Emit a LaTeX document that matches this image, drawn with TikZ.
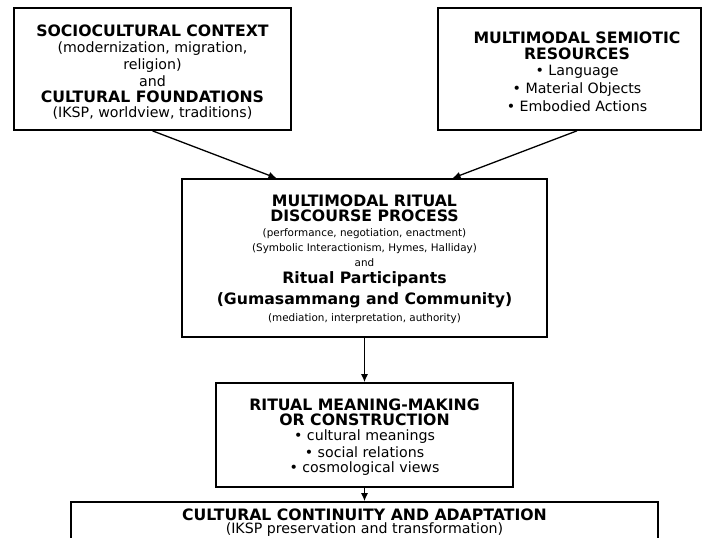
\documentclass[tikz,border=0pt]{standalone}
\usepackage{fontspec}
\setmainfont{DejaVu Sans}
\usetikzlibrary{arrows.meta,calc}
\pgfdeclarelayer{edgelayer}
\pgfdeclarelayer{nodelayer}
\pgfsetlayers{edgelayer,nodelayer,main}
\newcommand{\headfont}{\fontsize{15.7}{16}\bfseries\selectfont}
\newcommand{\bodyfont}{\fontsize{14.2}{16}\selectfont}
\newcommand{\smallfont}{\fontsize{10.4}{15}\selectfont}
\tikzstyle{none}=[inner sep=0pt, align=center, font=\bodyfont]
\tikzstyle{box}=[rectangle, draw=black, line width=1.7pt, fill=white, inner sep=0pt]
\tikzstyle{edge}=[draw=black, line width=1.3pt, -{Latex[length=8pt,width=7pt]}]

\begin{document}
\begin{tikzpicture}[x=1pt, y=-1pt]
			\useasboundingbox (0, 0) rectangle (702, 538);
			\begin{pgfonlayer}{nodelayer}
			\node [style=box, minimum width=277, minimum height=122] (0) at (152.5, 69) {};
			\node [style=none] (1) at (152.5, 72.5) {{\headfont SOCIOCULTURAL CONTEXT}\\(modernization, migration,\\[1pt]religion)\\[1pt]and\\{\headfont CULTURAL FOUNDATIONS}\\[-1pt](IKSP, worldview, traditions)};
			\node [style=box, minimum width=263, minimum height=122] (2) at (569.5, 69) {};
			\node [style=none] (3) at (577, 72) {{\headfont MULTIMODAL SEMIOTIC}\\{\headfont RESOURCES}\\• Language\\[2pt]• Material Objects\\[2pt]• Embodied Actions};
			\node [style=box, minimum width=365, minimum height=158] (4) at (364.5, 258) {};
			\node [style=none, font=\smallfont] (5) at (364.5, 259.5) {{\headfont MULTIMODAL RITUAL}\\{\headfont DISCOURSE PROCESS}\\(performance, negotiation, enactment)\\(Symbolic Interactionism, Hymes, Halliday)\\and\\[2pt]{\headfont Ritual Participants}\\[5pt]{\headfont (Gumasammang and Community)}\\[2pt](mediation, interpretation, authority)};
			\node [style=box, minimum width=297, minimum height=104] (6) at (364.5, 435) {};
			\node [style=none, font=\fontsize{14.2}{15}\selectfont] (7) at (364.5, 437) {{\headfont RITUAL MEANING-MAKING}\\{\headfont OR CONSTRUCTION}\\• cultural meanings\\[2pt]• social relations\\• cosmological views};
			\node [style=box, minimum width=587, minimum height=76] (8) at (364.5, 540) {};
			\node [style=none, font=\fontsize{14.2}{13.5}\selectfont] (9) at (364.5, 522.5) {{\headfont CULTURAL CONTINUITY AND ADAPTATION}\\(IKSP preservation and transformation)};
			\end{pgfonlayer}
			\begin{pgfonlayer}{edgelayer}
			\draw [style=edge] (0.south) to ($(4.north west)!0.26!(4.north east)$);
			\draw [style=edge] ($(2.south west)!0.528!(2.south east)$) to ($(4.north west)!0.74!(4.north east)$);
			\draw [style=edge] (4.south) to (6.north);
			\draw [style=edge] (6.south) to (8.north);
			\end{pgfonlayer}
\end{tikzpicture}
\end{document}
